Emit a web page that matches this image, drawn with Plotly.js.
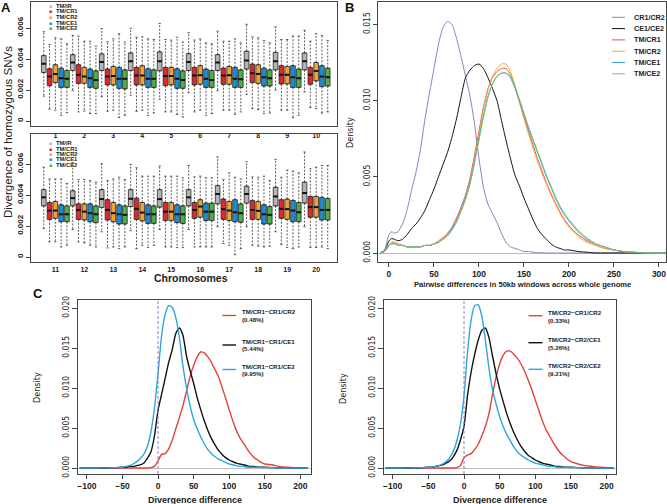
<!DOCTYPE html>
<html>
<head>
<meta charset="utf-8">
<script src="https://cdn.plot.ly/plotly-3.0.1.min.js"></script>
<style>body{margin:0;background:#fff}</style>
</head>
<body>
<div id="fig" style="width:667px;height:504px"></div>
<script>
var W = 667, H = 504;
// pixel -> paper helpers
var px = function(v){ return v / W; };
var py = function(v){ return 1 - v / H; };

// ---------- panel A: boxplots per chromosome ----------
var chromosomes = ['1','2','3','4','5','6','7','8','9','10','11','12','13','14','15','16','17','18','19','20'];
var pairs = ['TM/IR','TM/CR1','TM/CR2','TM/CE1','TM/CE2'];
var boxColors = ['#B5B5B5','#E2262B','#F2A232','#1D8ED1','#4DAE4C'];

var irQ3  = [0.00422,0.00428,0.00433,0.00439,0.00446,0.00435,0.00428,0.00450,0.00443,0.00439,0.00435,0.00428,0.00435,0.00435,0.00435,0.00435,0.00461,0.00457,0.00450,0.00483];
var irMed = [0.00370,0.00378,0.00380,0.00385,0.00385,0.00380,0.00378,0.00391,0.00385,0.00385,0.00385,0.00380,0.00374,0.00376,0.00374,0.00385,0.00407,0.00407,0.00391,0.00413];
var irQ1  = [0.00313,0.00326,0.00326,0.00326,0.00324,0.00326,0.00326,0.00335,0.00330,0.00330,0.00330,0.00330,0.00320,0.00326,0.00322,0.00330,0.00343,0.00348,0.00330,0.00348];
var irHi  = [0.00576,0.00552,0.00596,0.00598,0.00630,0.00570,0.00580,0.00624,0.00607,0.00585,0.00580,0.00609,0.00602,0.00598,0.00587,0.00591,0.00646,0.00615,0.00630,0.00678];
var irLo  = [0.00161,0.00196,0.00157,0.00167,0.00141,0.00183,0.00196,0.00172,0.00200,0.00189,0.00185,0.00178,0.00163,0.00170,0.00178,0.00178,0.00196,0.00196,0.00163,0.00196];

var cr1Q3  = [0.00337,0.00363,0.00335,0.00346,0.00346,0.00346,0.00341,0.00367,0.00357,0.00346,0.00352,0.00343,0.00370,0.00380,0.00352,0.00352,0.00374,0.00365,0.00370,0.00391];
var cr1Med = [0.00287,0.00298,0.00287,0.00293,0.00291,0.00293,0.00293,0.00309,0.00298,0.00298,0.00300,0.00304,0.00304,0.00311,0.00293,0.00304,0.00309,0.00304,0.00311,0.00322];
var cr1Q1  = [0.00228,0.00243,0.00233,0.00233,0.00228,0.00233,0.00237,0.00248,0.00239,0.00237,0.00243,0.00243,0.00239,0.00243,0.00235,0.00250,0.00243,0.00243,0.00250,0.00257];
var cr1Hi  = [0.00493,0.00548,0.00511,0.00541,0.00526,0.00522,0.00515,0.00543,0.00526,0.00515,0.00504,0.00500,0.00493,0.00576,0.00522,0.00517,0.00500,0.00517,0.00515,0.00570];
var cr1Lo  = [0.00076,0.00059,0.00063,0.00063,0.00059,0.00059,0.00070,0.00080,0.00070,0.00087,0.00098,0.00098,0.00059,0.00054,0.00065,0.00065,0.00087,0.00076,0.00080,0.00061];

var cr2Q3  = [0.00363,0.00346,0.00352,0.00357,0.00346,0.00357,0.00352,0.00363,0.00352,0.00378,0.00359,0.00343,0.00352,0.00352,0.00352,0.00370,0.00359,0.00359,0.00374,0.00391];
var cr2Med = [0.00304,0.00287,0.00291,0.00293,0.00291,0.00296,0.00296,0.00304,0.00298,0.00322,0.00300,0.00293,0.00283,0.00287,0.00293,0.00326,0.00300,0.00298,0.00309,0.00322];
var cr2Q1  = [0.00248,0.00243,0.00233,0.00233,0.00233,0.00237,0.00237,0.00243,0.00239,0.00259,0.00250,0.00239,0.00228,0.00233,0.00235,0.00257,0.00235,0.00243,0.00243,0.00257];
var cr2Hi  = [0.00537,0.00515,0.00530,0.00543,0.00522,0.00530,0.00515,0.00537,0.00526,0.00563,0.00504,0.00500,0.00504,0.00522,0.00522,0.00522,0.00543,0.00515,0.00561,0.00580];
var cr2Lo  = [0.00070,0.00065,0.00070,0.00070,0.00059,0.00070,0.00070,0.00074,0.00070,0.00080,0.00098,0.00091,0.00065,0.00076,0.00065,0.00065,0.00076,0.00070,0.00061,0.00061];

var ce1Q3  = [0.00341,0.00335,0.00346,0.00337,0.00337,0.00335,0.00346,0.00341,0.00357,0.00357,0.00337,0.00343,0.00337,0.00337,0.00337,0.00348,0.00370,0.00337,0.00365,0.00385];
var ce1Med = [0.00276,0.00276,0.00272,0.00272,0.00272,0.00272,0.00272,0.00283,0.00283,0.00287,0.00276,0.00283,0.00276,0.00276,0.00276,0.00293,0.00289,0.00276,0.00300,0.00304];
var ce1Q1  = [0.00217,0.00217,0.00211,0.00217,0.00211,0.00217,0.00217,0.00226,0.00217,0.00222,0.00228,0.00228,0.00213,0.00217,0.00222,0.00235,0.00228,0.00213,0.00228,0.00239];
var ce1Hi  = [0.00530,0.00515,0.00563,0.00530,0.00541,0.00504,0.00530,0.00520,0.00548,0.00552,0.00504,0.00493,0.00515,0.00522,0.00522,0.00511,0.00515,0.00522,0.00554,0.00591];
var ce1Lo  = [0.00037,0.00048,0.00022,0.00037,0.00043,0.00037,0.00043,0.00048,0.00022,0.00052,0.00065,0.00076,0.00054,0.00061,0.00061,0.00065,0.00015,0.00065,0.00054,0.00065];

var ce2Q3  = [0.00326,0.00324,0.00330,0.00330,0.00324,0.00326,0.00330,0.00330,0.00335,0.00341,0.00330,0.00330,0.00330,0.00330,0.00330,0.00348,0.00343,0.00326,0.00352,0.00378];
var ce2Med = [0.00272,0.00265,0.00272,0.00272,0.00265,0.00265,0.00270,0.00276,0.00276,0.00283,0.00276,0.00276,0.00272,0.00276,0.00276,0.00293,0.00283,0.00272,0.00289,0.00304];
var ce2Q1  = [0.00217,0.00211,0.00207,0.00217,0.00211,0.00217,0.00217,0.00226,0.00217,0.00226,0.00228,0.00222,0.00213,0.00217,0.00217,0.00235,0.00224,0.00213,0.00228,0.00239];
var ce2Hi  = [0.00498,0.00483,0.00509,0.00526,0.00509,0.00498,0.00504,0.00504,0.00548,0.00520,0.00474,0.00483,0.00500,0.00522,0.00511,0.00511,0.00504,0.00493,0.00543,0.00591];
var ce2Lo  = [0.00054,0.00048,0.00037,0.00052,0.00026,0.00048,0.00059,0.00052,0.00037,0.00059,0.00076,0.00065,0.00065,0.00076,0.00061,0.00065,0.00054,0.00070,0.00065,0.00054];

// ---------- panel B: pairwise difference densities ----------
var diffX = [-10,-5,-2,0,3,6,10,15,20,25,30,35,40,45,50,55,60,65,70,75,80,85,90,95,100,105,110,115,120,125,130,135,140,145,150,155,160,165,170,175,180,185,190,195,200,210,220,230,240,250,260,270,280,290,300,310];
var bNames = ['CR1/CR2','CE1/CE2','TM/CR1','TM/CR2','TM/CE1','TM/CE2'];
var bColors = ['#8E7CC3','#111111','#E8534A','#F4A93B','#3A9AD9','#7DC36B'];
var densCR1CR2 = [0,0.0002,0.0008,0.0012,0.0014,0.0013,0.0014,0.0019,0.0028,0.0041,0.0053,0.0068,0.0088,0.0105,0.0121,0.0137,0.0148,0.0152,0.0150,0.0141,0.0129,0.0116,0.0103,0.0085,0.0062,0.0043,0.0032,0.0026,0.0020,0.0013,0.0007,0.0004,0.0003,0.0002,0.0001,0.0001,0.00005,0.00003,0.00002,0,0,0,0,0,0,0,0,0,0,0,0,0,0,0,0,0];
var densCE1CE2 = [0,0.0001,0.0005,0.0008,0.00095,0.0009,0.0008,0.0009,0.0012,0.0016,0.0019,0.0023,0.0028,0.0035,0.0042,0.0050,0.0058,0.0066,0.0076,0.0088,0.0102,0.0115,0.0120,0.0123,0.0124,0.0121,0.0115,0.0108,0.0100,0.0087,0.0074,0.0062,0.0051,0.0044,0.0036,0.0029,0.0022,0.0016,0.0012,0.0009,0.0006,0.0004,0.0003,0.0002,0.0002,0.0001,0.00005,0,0,0,0,0,0,0,0,0];
var densTMCR1 = [0,0.0001,0.0004,0.0005,0.0007,0.0007,0.0006,0.0005,0.0004,0.0004,0.0004,0.0004,0.0005,0.0005,0.0006,0.0008,0.0010,0.0013,0.0017,0.0023,0.0030,0.0038,0.0049,0.0064,0.0080,0.0096,0.0108,0.0115,0.0119,0.0121,0.0121,0.0117,0.0109,0.0099,0.0089,0.0080,0.0071,0.0062,0.0054,0.0046,0.0039,0.0033,0.0027,0.0022,0.0018,0.0012,0.0008,0.0005,0.0003,0.0002,0.0001,0.00005,0.00002,0,0,0];
var densTMCR2 = [0,0.0001,0.0004,0.0005,0.0007,0.0007,0.0006,0.0005,0.0004,0.0004,0.0004,0.0004,0.0005,0.0005,0.0006,0.0007,0.0009,0.0012,0.0016,0.0021,0.0028,0.0036,0.0046,0.0060,0.0077,0.0094,0.0107,0.0116,0.0121,0.0124,0.0124,0.0119,0.0110,0.0099,0.0088,0.0078,0.0069,0.0060,0.0052,0.0045,0.0038,0.0032,0.0026,0.0021,0.0017,0.0011,0.0007,0.0005,0.0003,0.0002,0.0001,0.00005,0.00002,0,0,0];
var densTMCE1 = [0,0.0001,0.0003,0.0005,0.0006,0.0006,0.0005,0.0005,0.0004,0.0004,0.0004,0.0004,0.0005,0.0005,0.0006,0.0007,0.0009,0.0012,0.0016,0.0021,0.0028,0.0036,0.0046,0.0060,0.0075,0.0090,0.0103,0.0111,0.0116,0.0118,0.0118,0.0115,0.0108,0.0100,0.0091,0.0082,0.0074,0.0066,0.0058,0.0050,0.0043,0.0036,0.0030,0.0025,0.0021,0.0014,0.0009,0.0006,0.0004,0.0002,0.0001,0.00006,0.00003,0.00001,0,0];
var densTMCE2 = [0,0.0001,0.0003,0.0005,0.0006,0.0006,0.0005,0.0005,0.0004,0.0004,0.0004,0.0004,0.0005,0.0005,0.0006,0.0007,0.0009,0.0011,0.0015,0.0020,0.0027,0.0035,0.0045,0.0059,0.0074,0.0089,0.0102,0.0111,0.0116,0.0118,0.0118,0.0116,0.0109,0.0101,0.0092,0.0083,0.0075,0.0067,0.0059,0.0051,0.0044,0.0037,0.0031,0.0026,0.0022,0.0015,0.0010,0.0006,0.0004,0.0002,0.0001,0.00006,0.00003,0.00001,0,0];

// ---------- panel C: divergence difference densities ----------
var divX = [-110,-100,-90,-80,-70,-60,-50,-45,-40,-35,-30,-25,-20,-15,-10,-5,0,5,10,15,20,25,30,35,40,45,50,55,60,65,70,75,80,85,90,95,100,105,110,115,120,125,130,135,140,145,150,160,170,180,190,200,210];
var cColors = ['#E5413B','#111111','#2BA6DE'];
var cLeftNames = ['TM/CR1\u2212CR1/CR2','TM/CR1\u2212CR1/CE1','TM/CR1\u2212CR1/CE2'];
var cLeftPct = ['(0.48%)','(5.44%)','(9.95%)'];
var cRightNames = ['TM/CR2\u2212CR1/CR2','TM/CR2\u2212CR2/CE1','TM/CR2\u2212CR2/CE2'];
var cRightPct = ['(0.33%)','(5.26%)','(9.21%)'];
var refLineX = 0;

var cr1VsCR2 = [0,0,0,0,0,0,0,0,0,0,0,0,0,0,0.00005,0.0002,0.0009,0.0017,0.0018,0.0024,0.0035,0.0049,0.0063,0.0078,0.0096,0.0114,0.0128,0.0139,0.0145,0.0144,0.0139,0.0132,0.0123,0.0114,0.0101,0.0087,0.0073,0.0059,0.0047,0.0038,0.0031,0.0024,0.0018,0.0013,0.0010,0.0007,0.0005,0.0004,0.0002,0.0001,0.00005,0,0];
var cr1VsCE1 = [0,0,0,0,0.00001,0.00003,0.0001,0.0001,0.0002,0.0002,0.0003,0.0004,0.0006,0.0012,0.0020,0.0040,0.0072,0.0092,0.0112,0.0132,0.0148,0.0168,0.0175,0.0166,0.0140,0.0122,0.0106,0.0088,0.0073,0.0059,0.0047,0.0037,0.0029,0.0022,0.0017,0.0013,0.0010,0.0008,0.0006,0.0005,0.0004,0.0003,0.0002,0.0002,0.0001,0.0001,0.0001,0.00005,0.00003,0.00001,0,0,0];
var cr1VsCE2 = [0,0,0,0.00001,0.00002,0.00005,0.0001,0.0002,0.0003,0.0005,0.0008,0.0012,0.0017,0.0027,0.0045,0.0075,0.0118,0.0165,0.0192,0.0203,0.0201,0.0188,0.0163,0.0128,0.0100,0.0078,0.0061,0.0049,0.0039,0.0030,0.0023,0.0018,0.0014,0.0011,0.0009,0.0007,0.0005,0.0004,0.0003,0.0002,0.0002,0.0001,0.0001,0.0001,0.00008,0.00006,0.00005,0.00003,0.00002,0.00001,0,0,0];
var cr2VsCR2 = [0,0,0,0,0,0,0,0,0,0,0,0,0,0,0.00005,0.0003,0.0013,0.0016,0.0018,0.0023,0.0030,0.0040,0.0052,0.0068,0.0092,0.0114,0.0130,0.0141,0.0146,0.0146,0.0142,0.0137,0.0130,0.0121,0.0110,0.0098,0.0085,0.0072,0.0059,0.0048,0.0040,0.0032,0.0025,0.0019,0.0015,0.0011,0.0008,0.0005,0.0003,0.0002,0.0001,0.00005,0];
var cr2VsCE1 = [0,0,0,0,0.00001,0.00003,0.0001,0.0001,0.0002,0.0003,0.0004,0.0006,0.0009,0.0014,0.0022,0.0035,0.0052,0.0091,0.0120,0.0142,0.0160,0.0172,0.0175,0.0163,0.0140,0.0118,0.0099,0.0083,0.0068,0.0055,0.0044,0.0035,0.0027,0.0021,0.0016,0.0013,0.0010,0.0008,0.0006,0.0005,0.0004,0.0003,0.0002,0.0002,0.0001,0.0001,0.0001,0.00005,0.00003,0.00001,0,0,0];
var cr2VsCE2 = [0,0,0,0.00001,0.00002,0.00004,0.0001,0.0001,0.0002,0.0003,0.0005,0.0008,0.0013,0.0021,0.0034,0.0055,0.0090,0.0145,0.0185,0.0203,0.0204,0.0190,0.0160,0.0125,0.0098,0.0080,0.0064,0.0052,0.0042,0.0034,0.0026,0.0020,0.0016,0.0013,0.0010,0.0008,0.0006,0.0005,0.0004,0.0003,0.0002,0.0002,0.0001,0.0001,0.0001,0.00008,0.00006,0.00003,0.00002,0.00001,0,0,0];

var boxStats = [
  {q1: irQ1,  med: irMed,  q3: irQ3,  lo: irLo,  hi: irHi},
  {q1: cr1Q1, med: cr1Med, q3: cr1Q3, lo: cr1Lo, hi: cr1Hi},
  {q1: cr2Q1, med: cr2Med, q3: cr2Q3, lo: cr2Lo, hi: cr2Hi},
  {q1: ce1Q1, med: ce1Med, q3: ce1Q3, lo: ce1Lo, hi: ce1Hi},
  {q1: ce2Q1, med: ce2Med, q3: ce2Q3, lo: ce2Lo, hi: ce2Hi}
];

var traces = [];
var boxW = 0.8, capW = 0.2;

// two rows of ten chromosomes
[0, 1].forEach(function(p){
  var xa = p ? 'x2' : 'x', ya = p ? 'y2' : 'y';
  var idx = [];
  for (var i = 0; i < 10; i++) idx.push(p * 10 + i);
  pairs.forEach(function(name, j){
    var s = boxStats[j];
    var pos = idx.map(function(c, i){ return i * 5 + j + 1; });
    var wx = [], wy = [], cx = [], cy = [], mx = [], my = [];
    idx.forEach(function(c, i){
      var x = pos[i];
      wx.push(x, x, null, x, x, null);
      wy.push(s.q3[c], s.hi[c], null, s.q1[c], s.lo[c], null);
      cx.push(x - capW, x + capW, null, x - capW, x + capW, null);
      cy.push(s.hi[c], s.hi[c], null, s.lo[c], s.lo[c], null);
      mx.push(x - boxW / 2, x + boxW / 2, null);
      my.push(s.med[c], s.med[c], null);
    });
    traces.push({type: 'scatter', mode: 'lines', xaxis: xa, yaxis: ya, x: wx, y: wy,
      line: {color: '#333', width: 0.8, dash: '2px,1.5px'}, hoverinfo: 'skip', showlegend: false});
    traces.push({type: 'scatter', mode: 'lines', xaxis: xa, yaxis: ya, x: cx, y: cy,
      line: {color: '#333', width: 0.8}, hoverinfo: 'skip', showlegend: false});
    var q1 = idx.map(function(c){ return s.q1[c]; });
    var q3 = idx.map(function(c){ return s.q3[c]; });
    traces.push({type: 'box', xaxis: xa, yaxis: ya, name: name, x: pos,
      q1: q1, median: idx.map(function(c){ return s.med[c]; }), q3: q3,
      lowerfence: q1, upperfence: q3, width: boxW, boxpoints: false,
      fillcolor: boxColors[j], line: {color: '#2a2a2a', width: 0.8},
      hoverinfo: 'skip', showlegend: false});
    traces.push({type: 'scatter', mode: 'lines', xaxis: xa, yaxis: ya, x: mx, y: my,
      line: {color: '#111', width: 2}, hoverinfo: 'skip', showlegend: false});
  });
});

// panel B curves
[densCR1CR2, densCE1CE2, densTMCR1, densTMCR2, densTMCE1, densTMCE2].forEach(function(d, k){
  traces.push({type: 'scatter', mode: 'lines', xaxis: 'x3', yaxis: 'y3', x: diffX, y: d,
    name: bNames[k], line: {color: bColors[k], width: 1, shape: 'spline', smoothing: 0.6},
    hoverinfo: 'skip', showlegend: false});
});

// panel C curves
[[cr1VsCR2, cr1VsCE1, cr1VsCE2, 'x4', 'y4'], [cr2VsCR2, cr2VsCE1, cr2VsCE2, 'x5', 'y5']].forEach(function(set){
  for (var k = 0; k < 3; k++) {
    traces.push({type: 'scatter', mode: 'lines', xaxis: set[3], yaxis: set[4], x: divX, y: set[k],
      line: {color: cColors[k], width: 1.4, shape: 'spline', smoothing: 0.6},
      hoverinfo: 'skip', showlegend: false});
  }
});

var frame = {showline: true, mirror: true, linecolor: '#444', linewidth: 1, showgrid: false, zeroline: false};
var bold = 'Liberation Sans, Arial, sans-serif';
var narrow = 'Liberation Sans Narrow, DejaVu Sans Condensed, Arial Narrow, sans-serif';

function ax(extra){ return Object.assign({}, frame, extra); }

var centerTicks = [], topLabels = chromosomes.slice(0, 10), bottomLabels = chromosomes.slice(10);
for (var i = 0; i < 10; i++) centerTicks.push(i * 5 + 3);

var aYTicks = [0, 0.002, 0.004, 0.006];
var aYText = ['0', '0.002', '0.004', '0.006'];
var bYTicks = [0, 0.005, 0.010, 0.015];
var bYText = ['0.000', '0.005', '0.010', '0.015'];
var cYTicks = [0, 0.005, 0.010, 0.015, 0.020];
var cYText = ['0.000', '0.005', '0.010', '0.015', '0.020'];

var aXcommon = {range: [-1.2, 51.6], tickvals: centerTicks, ticks: 'outside',
  tickcolor: 'rgba(0,0,0,0)', tickfont: {family: bold, size: 7, weight: 'bold', color: '#222'}};
var aYcommon = {tickvals: aYTicks, ticktext: aYText, tickangle: -90, ticks: 'outside', ticklen: 4,
  tickcolor: '#444', tickfont: {family: bold, size: 8, weight: 'bold', color: '#222'}};

var layout = {
  width: W, height: H, margin: {l: 0, r: 0, t: 0, b: 0},
  paper_bgcolor: '#fff', plot_bgcolor: '#fff', showlegend: false, boxmode: 'overlay',
  font: {family: bold, color: '#222'},
  xaxis: ax(Object.assign({domain: [px(31), px(337)], anchor: 'y', ticktext: topLabels, ticklen: 3}, aXcommon)),
  yaxis: ax(Object.assign({domain: [py(126), py(1.5)], anchor: 'x', range: [-0.00032, 0.00771]}, aYcommon)),
  xaxis2: ax(Object.assign({domain: [px(31), px(337)], anchor: 'y2', ticktext: bottomLabels, ticklen: 0.5}, aXcommon)),
  yaxis2: ax(Object.assign({domain: [py(262), py(134)], anchor: 'x2', range: [-0.00032, 0.00794]}, aYcommon)),
  xaxis3: ax({domain: [px(378), px(666)], anchor: 'y3', range: [-12.2, 307.8],
    tickvals: [0, 50, 100, 150, 200, 250, 300], ticks: 'outside', ticklen: 4, tickcolor: '#444',
    tickfont: {family: bold, size: 8.5, weight: 'bold', color: '#222'}}),
  yaxis3: ax({domain: [py(262), py(1.5)], anchor: 'x3', range: [-0.00059, 0.0165],
    tickvals: bYTicks, ticktext: bYText, tickangle: -90, ticks: 'outside', ticklen: 4, tickcolor: '#444',
    tickfont: {family: narrow, size: 8.5, color: '#222'},
    zeroline: true, zerolinecolor: '#BDBDBD', zerolinewidth: 1}),
  xaxis4: ax({domain: [px(78), px(311)], anchor: 'y4', range: [-112.4, 214.9],
    tickvals: [-100, -50, 0, 50, 100, 150, 200], ticks: 'outside', ticklen: 4, tickcolor: '#444',
    tickfont: {family: bold, size: 8.5, weight: 'bold', color: '#222'}}),
  yaxis4: ax({domain: [py(474), py(300)], anchor: 'x4', range: [-0.00075, 0.021],
    tickvals: cYTicks, ticktext: cYText, tickangle: -90, ticks: 'outside', ticklen: 5, tickcolor: '#444',
    tickfont: {family: narrow, size: 8.5, color: '#222'},
    zeroline: true, zerolinecolor: '#BDBDBD', zerolinewidth: 1}),
  xaxis5: ax({domain: [px(384), px(616)], anchor: 'y5', range: [-112.2, 213.2],
    tickvals: [-100, -50, 0, 50, 100, 150, 200], ticks: 'outside', ticklen: 4, tickcolor: '#444',
    tickfont: {family: bold, size: 8.5, weight: 'bold', color: '#222'}}),
  yaxis5: ax({domain: [py(474), py(300)], anchor: 'x5', range: [-0.00075, 0.021],
    tickvals: cYTicks, ticktext: cYText, tickangle: -90, ticks: 'outside', ticklen: 5, tickcolor: '#444',
    tickfont: {family: narrow, size: 8.5, color: '#222'},
    zeroline: true, zerolinecolor: '#BDBDBD', zerolinewidth: 1}),
  shapes: [],
  annotations: []
};

function note(text, x, y, opts){
  layout.annotations.push(Object.assign({text: text, x: px(x), y: py(y), xref: 'paper', yref: 'paper',
    showarrow: false, xanchor: 'center', yanchor: 'middle',
    font: {family: bold, size: 8, color: '#222'}}, opts || {}));
}

// panel letters
note('<b>A</b>', 6, 8, {font: {family: bold, size: 13, color: '#111'}});
note('<b>B</b>', 350, 8, {font: {family: bold, size: 13, color: '#111'}});
note('<b>C</b>', 38, 293, {font: {family: bold, size: 13, color: '#111'}});

// axis titles
note('Divergence of homozygous SNVs', 8, 132, {textangle: -90, font: {family: bold, size: 11.5, color: '#222'}});
note('<b>Chromosomes</b>', 191, 278, {font: {family: bold, size: 10.5, color: '#222'}});
note('<b>Pairwise differences in 50kb windows across whole genome</b>', 522, 284, {font: {family: bold, size: 7.6, color: '#222'}});
note('Density', 350, 132, {textangle: -90, font: {family: narrow, size: 9, color: '#222'}});
note('Density', 37, 388, {textangle: -90, font: {family: narrow, size: 9, color: '#222'}});
note('Density', 343, 388, {textangle: -90, font: {family: narrow, size: 9, color: '#222'}});
note('<b>Divergence difference</b>', 195, 500, {font: {family: bold, size: 9, color: '#222'}});
note('<b>Divergence difference</b>', 500, 500, {font: {family: bold, size: 9, color: '#222'}});

// panel A legends (two copies)
[[5.7, 5.67], [143.3, 5.35]].forEach(function(l){
  pairs.forEach(function(name, j){
    var y = l[0] + j * l[1];
    note('\u25A0', 50.5, y, {font: {family: bold, size: 5, color: boxColors[j]}});
    note('<b>' + name + '</b>', 54, y, {xanchor: 'left', font: {family: bold, size: 5.8, color: '#222'}});
  });
});

// panel B legend
bNames.forEach(function(name, k){
  var y = 17.3 + k * 11.3;
  layout.shapes.push({type: 'line', xref: 'paper', yref: 'paper', x0: px(612), x1: px(625), y0: py(y), y1: py(y),
    line: {color: bColors[k], width: 1}});
  note('<b>' + name + '</b>', 632, y, {xanchor: 'left', font: {family: bold, size: 7.2, color: '#222'}});
});

// panel C legends
var cRows = [[311.5, 319.3, 315.5], [341, 348.5, 345], [366, 373.5, 369.5]];
var cRowsR = [[312.3, 320, 315.7], [339.5, 347, 342.7], [365.5, 373, 369.3]];
[[cLeftNames, cLeftPct, cRows, 222.5, 236, 240], [cRightNames, cRightPct, cRowsR, 528.5, 542.5, 546]].forEach(function(g){
  for (var k = 0; k < 3; k++) {
    var r = g[2][k];
    layout.shapes.push({type: 'line', xref: 'paper', yref: 'paper', x0: px(g[3]), x1: px(g[4]), y0: py(r[2]), y1: py(r[2]),
      line: {color: cColors[k], width: 1.4}});
    note('<b>' + g[0][k] + '</b>', g[5], r[0], {xanchor: 'left', font: {family: bold, size: 6.2, color: '#222'}});
    note('<b>' + g[1][k] + '</b>', g[5], r[1], {xanchor: 'left', font: {family: bold, size: 6.2, color: '#222'}});
  }
});

// dashed reference line at zero difference
['x4', 'x5'].forEach(function(xr, k){
  layout.shapes.push({type: 'line', xref: xr, yref: (k ? 'y5' : 'y4') + ' domain', x0: refLineX, x1: refLineX, y0: 0, y1: 1,
    line: {color: '#8E7CC3', width: 1, dash: '3px,2px'}});
});

Plotly.newPlot('fig', traces, layout, {staticPlot: true, responsive: false});
</script>
</body>
</html>
